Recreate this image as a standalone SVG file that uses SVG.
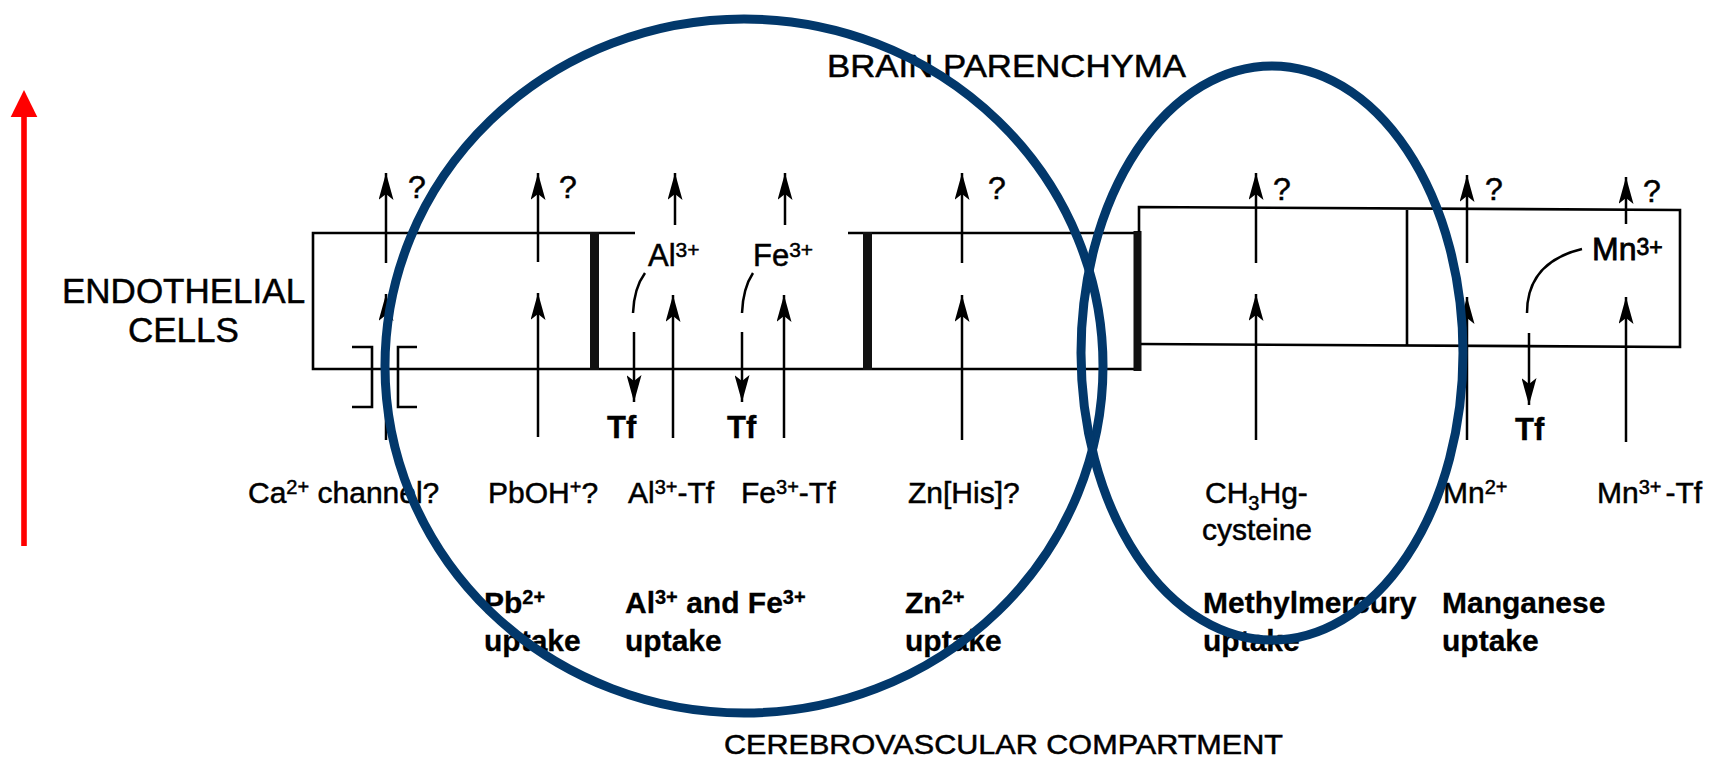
<svg xmlns="http://www.w3.org/2000/svg" width="1710" height="758" viewBox="0 0 1710 758">
<defs>
<style>
.t{font-family:"Liberation Sans",Arial,Helvetica,sans-serif;font-size:30px;fill:#000;stroke:#000;stroke-width:0.5}
.b{font-weight:bold;stroke-width:0.3}
.ln{stroke:#000;stroke-width:2.6;fill:none}
.bar{fill:#111}
.arr{stroke:#000;stroke-width:2.5;fill:none;marker-end:url(#ah)}
.cv{stroke:#000;stroke-width:2.5;fill:none}
.ell{fill:none;stroke:#02386b;stroke-width:9}
</style>
<marker id="ah" viewBox="0 0 27 15" refX="27" refY="7.5" markerWidth="27" markerHeight="15" markerUnits="userSpaceOnUse" orient="auto">
<path d="M0,0 L27,7.5 L0,15 L6,7.5 Z" fill="#000"/>
</marker>
</defs>
<rect width="1710" height="758" fill="#fff"/>

<g id="red-arrow">
<rect x="21.2" y="114" width="5.6" height="432" fill="#f00"/>
<polygon points="24,90 10.7,117 37.3,117" fill="#f00"/>
</g>

<g id="endothelial-cells-label">
<text class="t" x="62" y="303" style="font-size:35px">ENDOTHELIAL</text>
<text class="t" x="128" y="342" style="font-size:35px">CELLS</text>
</g>
<g id="brain-parenchyma-label">
<text class="t" x="827" y="77" style="font-size:31px" textLength="359" lengthAdjust="spacingAndGlyphs">BRAIN PARENCHYMA</text>
</g>
<g id="cerebrovascular-label">
<text class="t" x="724" y="754" style="font-size:28px" textLength="559" lengthAdjust="spacingAndGlyphs">CEREBROVASCULAR COMPARTMENT</text>
</g>

<g id="cell-left">
<path class="ln" d="M635,233 H313 V369 H1141"/>
<rect class="bar" x="590" y="232" width="9" height="138"/>
<path class="ln" d="M352,347 H372 V407 H352 M417,347 H398 V407 H417"/>
</g>
<g id="cell-middle">
<path class="ln" d="M848,233 H1137"/>
<rect class="bar" x="863" y="232" width="9" height="138"/>
<rect class="bar" x="1133.5" y="231" width="8" height="140"/>
</g>
<g id="cell-right">
<path class="ln" d="M1139,232 V207 L1680,210 V347 L1141,344 M1407,208 V345"/>
</g>

<g id="connectors">
<path class="arr" d="M386,263 V173"/>
<path class="arr" d="M386,440 V294"/>
<path class="arr" d="M538,262 V173"/>
<path class="arr" d="M538,437 V293"/>
<path class="arr" d="M675,225 V173"/>
<path class="arr" d="M785,225 V173"/>
<path class="arr" d="M673,438 V295"/>
<path class="arr" d="M784,438 V295"/>
<path class="arr" d="M962,263 V173"/>
<path class="arr" d="M962,440 V295"/>
<path class="arr" d="M1256,263 V173"/>
<path class="arr" d="M1256,440 V294"/>
<path class="arr" d="M1467,263 V175"/>
<path class="arr" d="M1467,440 V297"/>
<path class="arr" d="M1626,224 V177"/>
<path class="arr" d="M1626,442 V297"/>
<path class="cv" d="M645,273 Q634,288 633,313"/>
<path class="arr" d="M634,332 V402"/>
<path class="cv" d="M753,273 Q743,288 742,313"/>
<path class="arr" d="M742,332 V402"/>
<path class="cv" d="M1582,249 C1545,258 1527,280 1527,313"/>
<path class="arr" d="M1529,333 V405"/>
</g>

<g id="question-marks">
<text class="t" x="408" y="198" style="font-size:32px">?</text>
<text class="t" x="559" y="198" style="font-size:32px">?</text>
<text class="t" x="988" y="199" style="font-size:32px">?</text>
<text class="t" x="1273" y="200" style="font-size:32px">?</text>
<text class="t" x="1485" y="200" style="font-size:32px">?</text>
<text class="t" x="1643" y="202" style="font-size:32px">?</text>
</g>

<g id="ion-labels">
<text class="t" x="648" y="266" style="font-size:31px">Al<tspan dy="-9" font-size="21">3+</tspan></text>
<text class="t" x="753" y="266" style="font-size:31px">Fe<tspan dy="-9" font-size="21">3+</tspan></text>
<text class="t" x="1592" y="260" style="font-size:32px;stroke-width:0.8">Mn<tspan dy="-5" font-size="23">3+</tspan></text>
<text class="t b" x="607" y="438" style="font-size:31px">Tf</text>
<text class="t b" x="727" y="438" style="font-size:31px">Tf</text>
<text class="t b" x="1515" y="440" style="font-size:31px">Tf</text>
</g>

<g id="species-labels">
<text class="t" x="248" y="503">Ca<tspan dy="-9" font-size="20">2+</tspan><tspan dy="9"> channel?</tspan></text>
<text class="t" x="488" y="503">PbOH<tspan dy="-9" font-size="20">+</tspan><tspan dy="9">?</tspan></text>
<text class="t" x="628" y="503">Al<tspan dy="-9" font-size="20">3+</tspan><tspan dy="9">-Tf</tspan></text>
<text class="t" x="741" y="503">Fe<tspan dy="-9" font-size="20">3+</tspan><tspan dy="9">-Tf</tspan></text>
<text class="t" x="908" y="503">Zn[His]?</text>
<text class="t" x="1205" y="503">CH<tspan dy="7" font-size="20">3</tspan><tspan dy="-7">Hg-</tspan></text>
<text class="t" x="1202" y="540">cysteine</text>
<text class="t" x="1443" y="503">Mn<tspan dy="-9" font-size="20">2+</tspan></text>
<text class="t" x="1597" y="503">Mn<tspan dy="-9" font-size="20">3+</tspan><tspan dy="9" dx="4">-Tf</tspan></text>
</g>

<g id="uptake-labels">
<text class="t b" x="484" y="613">Pb<tspan dy="-9" font-size="20">2+</tspan></text>
<text class="t b" x="484" y="651">uptake</text>
<text class="t b" x="625" y="613">Al<tspan dy="-9" font-size="20">3+</tspan><tspan dy="9"> and Fe</tspan><tspan dy="-9" font-size="20">3+</tspan></text>
<text class="t b" x="625" y="651">uptake</text>
<text class="t b" x="905" y="613">Zn<tspan dy="-9" font-size="20">2+</tspan></text>
<text class="t b" x="905" y="651">uptake</text>
<text class="t b" x="1203" y="613">Methylmercury</text>
<text class="t b" x="1203" y="651">uptake</text>
<text class="t b" x="1442" y="613">Manganese</text>
<text class="t b" x="1442" y="651">uptake</text>
</g>

<g id="ellipses">
<ellipse id="ellipse-left" class="ell" cx="744" cy="366" rx="359" ry="347"/>
<ellipse id="ellipse-right" class="ell" cx="1272" cy="353" rx="191" ry="287"/>
</g>
</svg>
